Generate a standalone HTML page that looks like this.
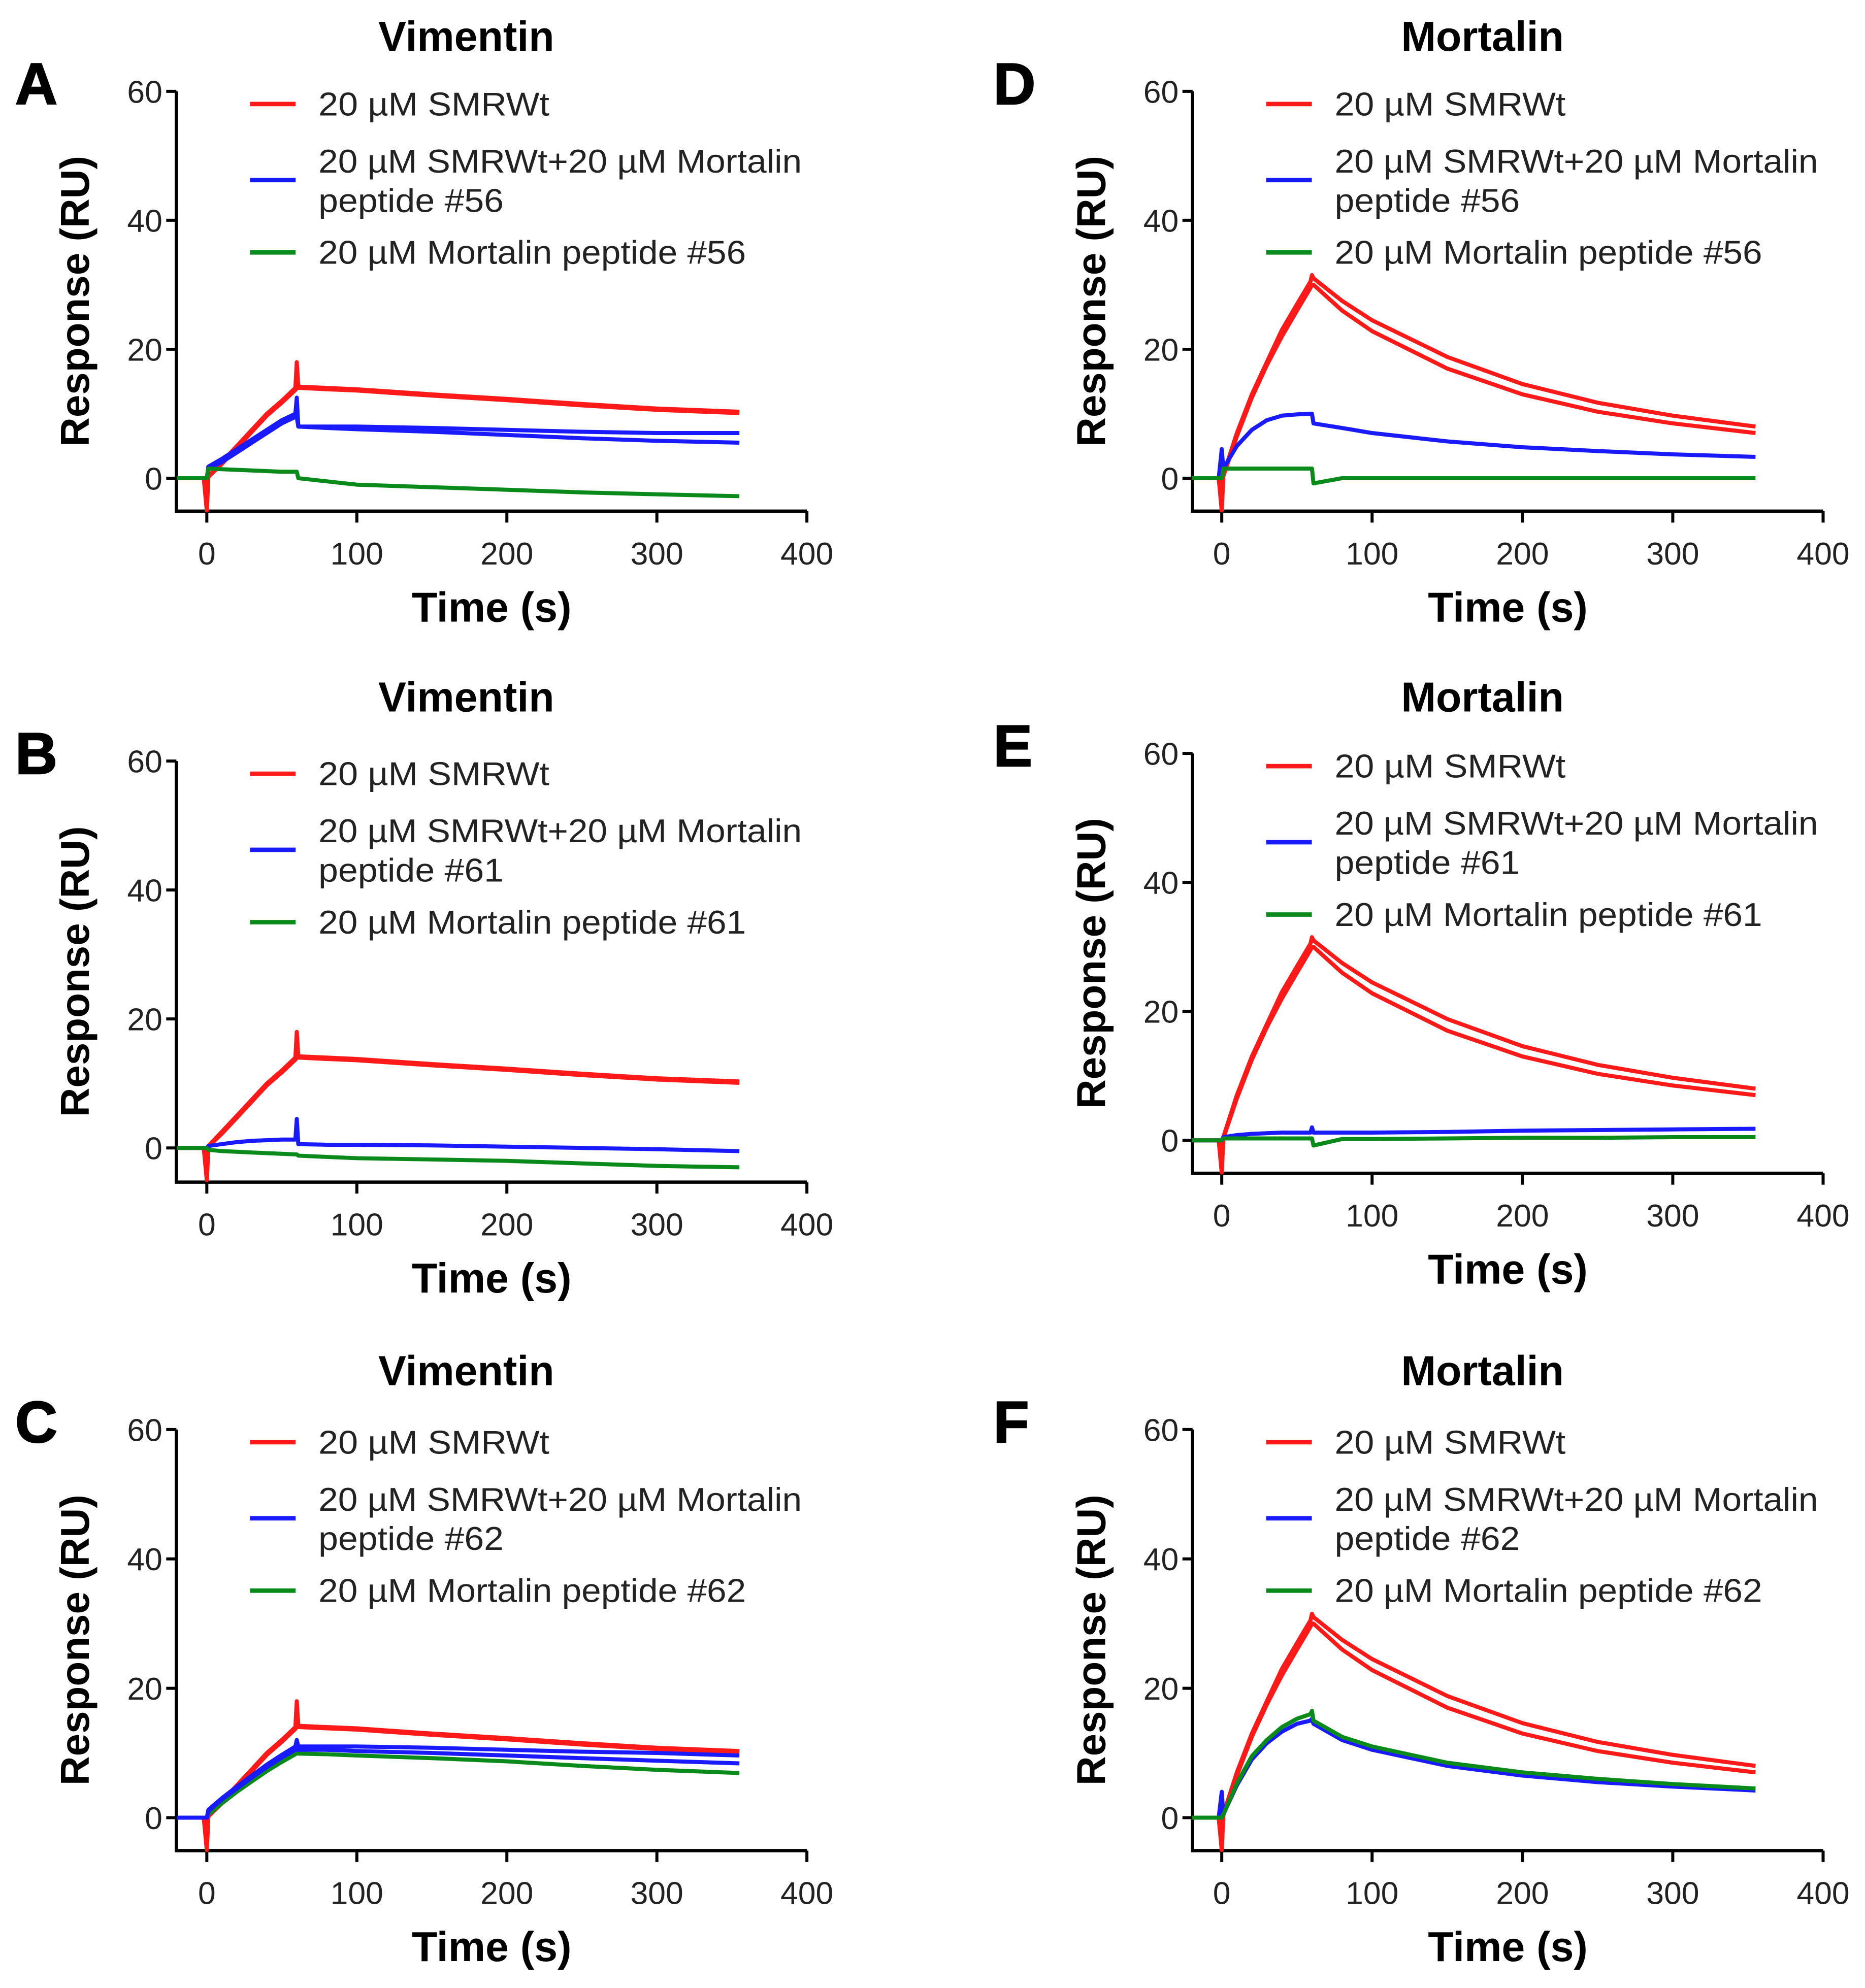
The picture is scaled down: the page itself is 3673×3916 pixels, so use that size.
<!DOCTYPE html>
<html><head><meta charset="utf-8"><style>
html,body{margin:0;padding:0;background:#fff}
svg{display:block}
text{font-family:"Liberation Sans",Arial,sans-serif}
</style></head><body>
<svg id="fig" width="3673" height="3916" viewBox="0 0 1470 1567.3" xmlns="http://www.w3.org/2000/svg"></svg>
<script>
// shared time samples (s)
const times = [-20,-2,0,1,10,20,30,40,50,59,60,61,80,100,150,200,250,300,355];
const xTicks = [0,100,200,300,400];
const yTicks = [0,20,40,60];
// Vimentin series
const vimRed1 = [0,0,-5,0.3,2.5,5,7.5,10,12,14,18,14.2,14,13.8,13,12.3,11.5,10.8,10.3];
const vimRed2 = [0,0,-5,0.2,2.2,4.7,7.2,9.7,11.7,13.7,14,14,13.8,13.6,12.8,12.1,11.3,10.6,10.1];
const aBlue1 = [0,0,0,1.8,3,4.5,6,7.5,9,10,12.5,8,8,8,7.8,7.5,7.2,7,7];
const aBlue2 = [0,0,0,1.5,2.5,4,5.5,7,8.5,9.5,9.5,8,7.8,7.6,7.2,6.7,6.2,5.8,5.5];
const aGreen = [0,0,0,1.5,1.4,1.3,1.2,1.1,1,1,1,0,-0.5,-1,-1.4,-1.8,-2.2,-2.5,-2.8];
const bBlue = [0,0,0,0.3,0.6,0.9,1.1,1.2,1.3,1.3,4.5,0.6,0.5,0.5,0.4,0.2,0,-0.2,-0.5];
const bGreen = [0,0,0,-0.3,-0.5,-0.6,-0.7,-0.8,-0.9,-1,-1,-1.2,-1.4,-1.6,-1.8,-2,-2.4,-2.8,-3];
const cBlue1 = [0,0,0,1.2,3,4.8,6.5,8.2,9.7,11,12,11,11,11,10.8,10.5,10.2,10,9.6];
const cBlue2 = [0,0,0,1,2.8,4.5,6.2,7.8,9.3,10.5,10.5,10.5,10.5,10.3,10,9.6,9.2,8.8,8.4];
const cGreen = [0,0,0,0.5,2.2,4,5.6,7.2,8.6,9.8,10,9.9,9.8,9.6,9.2,8.7,8,7.4,6.9];
// Mortalin series
const morRed1 = [0,0,-5,0.5,7,13,18,23,27,30.5,31.5,31,27.5,24.5,18.8,14.6,11.7,9.7,8];
const morRed2 = [0,0,-5,0.3,6.5,12.5,17.5,22,26,29.5,30,30,26,22.8,17,13,10.3,8.5,7];
const dBlue = [0,0,4.5,1.5,5,7.5,9,9.7,9.9,10,10,8.5,7.8,7,5.7,4.8,4.2,3.7,3.3];
const dGreen = [0,0,0,1.5,1.5,1.5,1.5,1.5,1.5,1.5,1.5,-0.8,0,0,0,0,0,0,0];
const eBlue = [0,0,0,0.5,0.8,1,1.1,1.2,1.2,1.2,2,1.2,1.2,1.2,1.3,1.5,1.6,1.7,1.8];
const eGreen = [0,0,0,0.3,0.3,0.3,0.3,0.3,0.3,0.3,0.3,-0.8,0.2,0.2,0.3,0.4,0.4,0.5,0.5];
const fBlue = [0,0,4,0.5,5,9,11.5,13.3,14.5,15,15.3,14.5,12,10.5,8,6.5,5.5,4.8,4.2];
const fGreen = [0,0,0,0.5,5.3,9.5,12,14,15.3,16,16.5,15,12.5,11,8.5,7,6,5.2,4.5];

const RED='#ff1a1a', BLUE='#1a1aff', GREEN='#0a8a1a';
const NS='http://www.w3.org/2000/svg';
const svg=document.getElementById('fig');
function mk(tag,attrs,parent){const e=document.createElementNS(NS,tag);for(const k in attrs)e.setAttribute(k,attrs[k]);(parent||svg).appendChild(e);return e;}

const panels=[
 {id:'a',letter:'A',title:'Vimentin',x0:163,x400:636,axL:139,y60:72,y0:377,yb:403,titleY:40,pep:'56',series:[[vimRed1,RED],[vimRed2,RED],[aBlue1,BLUE],[aBlue2,BLUE],[aGreen,GREEN]]},
 {id:'b',letter:'B',title:'Vimentin',x0:163,x400:636,axL:139,y60:600,y0:905,yb:932,titleY:561,pep:'61',series:[[vimRed1,RED],[vimRed2,RED],[bBlue,BLUE],[bGreen,GREEN]]},
 {id:'c',letter:'C',title:'Vimentin',x0:163,x400:636,axL:139,y60:1127,y0:1433,yb:1459,titleY:1092,pep:'62',series:[[vimRed1,RED],[vimRed2,RED],[cGreen,GREEN],[cBlue1,BLUE],[cBlue2,BLUE]]},
 {id:'d',letter:'D',title:'Mortalin',x0:963,x400:1437,axL:940,y60:72,y0:377,yb:403,titleY:40,pep:'56',series:[[morRed1,RED],[morRed2,RED],[dBlue,BLUE],[dGreen,GREEN]]},
 {id:'e',letter:'E',title:'Mortalin',x0:963,x400:1437,axL:940,y60:594,y0:899,yb:925,titleY:561,pep:'61',series:[[morRed1,RED],[morRed2,RED],[eBlue,BLUE],[eGreen,GREEN]]},
 {id:'f',letter:'F',title:'Mortalin',x0:963,x400:1437,axL:940,y60:1127,y0:1433,yb:1459,titleY:1092,pep:'62',series:[[morRed1,RED],[morRed2,RED],[fBlue,BLUE],[fGreen,GREEN]]}
];

panels.forEach(p=>{
  const g=mk('g',{});
  
  
  const xs=t=>p.x0+(t/400)*(p.x400-p.x0);
  const ys=v=>p.y0-(v/60)*(p.y0-p.y60);
  const cx=(p.axL+p.x400)/2;
  let t;
  t=mk('text',{x:p.letter==='A'||p.letter==='B'||p.letter==='C'?12:783,y:p.y60+10,'font-size':46,'font-weight':'bold',fill:'#000',stroke:'#000','stroke-width':1},g);
  t.textContent=p.letter;
  
  
  t=mk('text',{x:(p.axL+p.x400)/2-20,y:p.titleY,'font-size':33,'font-weight':'bold','text-anchor':'middle',fill:'#000'},g);
  t.textContent=p.title;
  
  
  const ax=mk('path',{d:`M${p.axL},${p.y60} V${p.yb} H${p.x400}`,stroke:'#000','stroke-width':2.6,fill:'none'},g);
  
  
  yTicks.forEach(v=>{
    const y=ys(v);
    mk('line',{x1:p.axL-8,x2:p.axL,y1:y,y2:y,stroke:'#000','stroke-width':2.4},g);
    const l=mk('text',{x:p.axL-11,y:y+9,'font-size':25,'text-anchor':'end',fill:'#222'},g);
    l.textContent=v;
    
    
  });
  xTicks.forEach(v=>{
    const x=xs(v);
    mk('line',{x1:x,x2:x,y1:p.yb,y2:p.yb+9,stroke:'#000','stroke-width':2.4},g);
    const l=mk('text',{x:x,y:p.yb+42,'font-size':25,'text-anchor':'middle',fill:'#222'},g);
    l.textContent=v;
    
    
  });
  t=mk('text',{x:cx,y:p.yb+87,'font-size':33,'font-weight':'bold','text-anchor':'middle',fill:'#000'},g);
  t.textContent='Time (s)';
  
  
  const ry=(p.y60+p.yb)/2;
  t=mk('text',{x:0,y:0,'font-size':32,'font-weight':'bold','text-anchor':'middle',fill:'#000',transform:`translate(${p.axL-69},${ry}) rotate(-90)`},g);
  t.textContent='Response (RU)';
  
  
  p.series.forEach(([vals,col],i)=>{
    const d=times.map((tt,k)=>(k?'L':'M')+xs(tt).toFixed(1)+','+ys(vals[k]).toFixed(1)).join(' ');
    const s=mk('path',{d:d,stroke:col,'stroke-width':3.2,fill:'none','stroke-linejoin':'round'},g);
    
    
  });
  const lx=p.axL+58, tx=p.axL+112, top=p.y60;
  const leg=[[RED,top+10,[['20 µM SMRWt',182]],top+19],
             [BLUE,top+70,[['20 µM SMRWt+20 µM Mortalin',381],['peptide #'+p.pep,146]],top+64],
             [GREEN,top+127,[['20 µM Mortalin peptide #'+p.pep,337]],top+136]];
  leg.forEach(([col,ly,lines,ty],i)=>{
    const e=mk('g',{},g);
    
    
    mk('line',{x1:lx,x2:lx+36,y1:ly,y2:ly,stroke:col,'stroke-width':3.5},e);
    lines.forEach(([s,w],j)=>{
      const tt=mk('text',{x:tx,y:ty+j*31,'font-size':26,fill:'#222',textLength:w,lengthAdjust:'spacingAndGlyphs'},e);
      tt.textContent=s;
    });
  });
});
</script>
</body></html>
